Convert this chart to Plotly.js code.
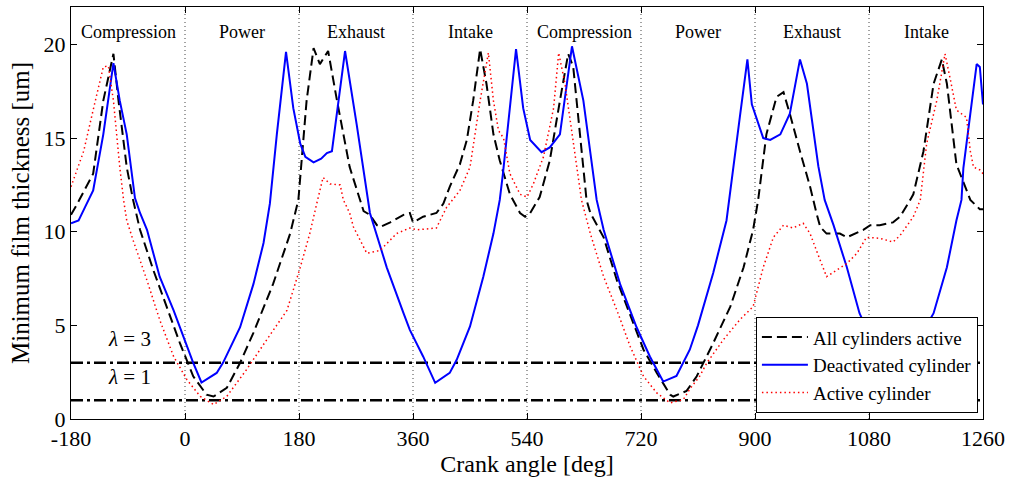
<!DOCTYPE html>
<html>
<head>
<meta charset="utf-8">
<script src="https://cdn.plot.ly/plotly-3.0.1.min.js"></script>
<style>html,body{margin:0;padding:0;background:#fff;}#chart{width:1013px;height:481px;}</style>
</head>
<body>
<div id="chart"></div>
<script>
// ---- Data ----
const allX = [-180,-170,-145,-129,-113,-105,-92,-82,-71,-50,-29,-8,13,34,45,66,87,108,139,166,179,192,203,213,226,240,260,282,292,303,308,324,345,355,360,376,397,408,418,434,445,455,466,476,487,497,513,529,537,545,560,576,592,605,613,624,634,640,650,661,682,703,724,745,766,771,792,808,834,861,882,897,905,918,934,945,955,971,987,997,1003,1013,1034,1045,1071,1082,1097,1118,1129,1145,1150,1166,1182,1195,1203,1218,1240,1255,1260];
const allY = [10.9,11.5,13.1,17.0,19.5,17.0,13.45,11.7,10.1,7.95,6.0,4.05,2.28,1.3,1.2,1.66,3.0,4.6,7.2,9.9,11.7,17.0,19.8,18.95,19.65,17.0,13.45,11.1,10.9,10.35,10.25,10.5,10.9,11.0,10.5,10.8,11.0,11.5,12.4,13.6,14.9,17.0,19.75,17.9,15.2,13.8,12.0,11.0,10.8,11.0,11.85,13.8,17.0,19.5,18.8,15.2,11.7,11.0,10.4,9.7,7.4,5.5,3.7,2.46,1.3,1.2,1.5,2.28,4.05,6.0,8.1,10.1,11.7,15.2,17.2,17.45,16.3,14.3,12.4,11.0,10.25,9.9,9.9,9.7,10.1,10.35,10.35,10.5,10.8,11.7,12.0,14.3,17.9,19.2,17.9,13.6,11.7,11.2,11.2];

const deacX = [-180,-168,-158,-145,-129,-113,-103,-92,-79,-71,-60,-40,-18,-3,13,26,38,50,60,87,108,124,134,145,159.5,171,182,190,203,215,224,232,252.7,271,292,318.5,345,355,376,395,418,429,450,471,487,497,502,522.7,534,545,563,576,592,611,629,650,661,687,713,734,755,776,797,810,834,855,876,888,895,913,924,940,955,971,982,1000,1010,1024,1045,1065,1096,1115,1138,1149,1170,1182,1203,1218,1226,1229,1250,1255,1260];
const deacY = [10.45,10.6,11.3,12.2,15.2,19.0,17.0,15.2,11.8,11.0,10.1,7.6,5.8,4.4,3.0,1.95,2.2,2.46,3.0,4.9,7.2,9.4,11.5,15.2,19.6,16.6,14.7,14.0,13.7,13.9,14.2,14.3,19.65,15.75,11.0,8.1,5.65,4.76,3.34,1.93,2.46,3.16,4.94,7.6,9.9,11.7,13.1,19.75,16.6,14.9,14.25,14.5,15.2,19.9,17.0,11.7,10.1,7.2,4.9,3.34,2.0,2.3,3.7,5.0,7.8,10.6,16.1,19.2,16.8,15.0,14.9,15.2,16.3,19.2,17.9,13.5,11.7,10.35,8.1,5.65,3.34,1.93,2.46,3.16,4.94,5.65,8.1,10.6,11.7,13.4,18.95,18.8,16.8];

const actX = [-180,-160,-145,-129,-121,-113,-103,-97,-92,-82,-60,-40,-18,3,24,45,66,97,129,161,182,197,208,218,229,245,250,260,266,287,308,324,334,355,366,397,413,434,450,466,479,487,495,503,513,529,540,550,566,582,590,600,613,626,640,661,682,703,724,745,766,787,797,813,824,850,876,897,913,929,945,960,976,987,997,1013,1029,1045,1061,1076,1097,1118,1129,1150,1161,1171,1187,1200,1208,1218,1234,1240,1245,1255,1260];
const actY = [12.4,14.3,16.5,18.8,18.85,17.0,13.45,11.7,10.6,9.55,7.4,5.3,3.34,2.1,1.21,0.77,1.21,2.63,4.23,5.8,8.1,9.9,11.5,12.9,12.55,12.5,11.7,11.0,10.25,8.85,9.0,9.55,9.9,10.2,10.1,10.2,11.3,12.2,13.45,17.0,19.55,17.0,15.4,15.0,13.1,12.0,11.85,12.55,14.0,16.6,19.55,17.9,14.9,11.7,9.9,7.6,5.8,3.87,2.28,1.39,0.86,1.04,1.6,2.3,3.0,4.23,5.3,6.0,8.1,9.7,10.35,10.2,10.45,9.9,9.0,7.6,7.95,8.3,8.85,9.7,9.65,9.45,9.8,10.8,11.7,14.7,17.0,19.5,18.2,16.5,16.1,14.3,13.45,13.3,13.1];

const seriesNames = ["All cylinders active","Deactivated cylinder","Active cylinder"];
const lambdaLevels = [3, 1];
const lambdaLabels = ["<i>λ</i> = 3", "<i>λ</i> = 1"];
const phaseBoundaries = [0,180,360,540,720,900,1080];
const phaseLabels = ["Compression","Power","Exhaust","Intake","Compression","Power","Exhaust","Intake"];
const phaseCenters = [-90,90,270,450,630,810,990,1170];
const xTicks = [-180,0,180,360,540,720,900,1080,1260];
const yTicks = [0,5,10,15,20];
const xRange = [-180,1260];
const yRange = [0,22];

const serif = '"Liberation Serif", serif';

const traces = [];
lambdaLevels.forEach(function(l){
  traces.push({x:[xRange[0],xRange[1]], y:[l,l], mode:'lines', showlegend:false, hoverinfo:'skip',
    line:{color:'#000', width:2.5, dash:'12px,4px,3px,4px'}});
});
traces.push({x:allX, y:allY, name:seriesNames[0], mode:'lines', line:{color:'#000', width:2, dash:'10px,5px'}});
traces.push({x:deacX, y:deacY, name:seriesNames[1], mode:'lines', line:{color:'#0000ff', width:2}});
traces.push({x:actX, y:actY, name:seriesNames[2], mode:'lines', line:{color:'#ff0000', width:1.5, dash:'1.5px,3px'}});

const shapes = phaseBoundaries.map(function(b){
  return {type:'line', xref:'x', yref:'paper', x0:b, x1:b, y0:0, y1:1, layer:'below',
    line:{color:'#444', width:1, dash:'1px,3px'}};
});

const annotations = [];
phaseLabels.forEach(function(t,i){
  annotations.push({x:phaseCenters[i], y:20.66, xref:'x', yref:'y', text:t, showarrow:false,
    font:{family:serif, size:18, color:'#000'}});
});
lambdaLevels.forEach(function(l,i){
  annotations.push({x:-87, y:l+1.25, xref:'x', yref:'y', text:lambdaLabels[i], showarrow:false,
    font:{family:serif, size:21, color:'#000'}});
});

const layout = {
  width:1013, height:481,
  margin:{l:71, r:30, t:7, b:62},
  paper_bgcolor:'#fff', plot_bgcolor:'#fff',
  font:{family:serif, color:'#000'},
  showlegend:true,
  legend:{x:0.751, y:0.247, xanchor:'left', yanchor:'top', bgcolor:'#fff', bordercolor:'#000', borderwidth:1,
    font:{family:serif, size:19, color:'#000'}, itemwidth:46, tracegroupgap:0},
  xaxis:{range:xRange, tickvals:xTicks, ticktext:xTicks.map(String), ticks:'inside', ticklen:6, tickcolor:'#000',
    showline:true, linecolor:'#000', linewidth:1, mirror:'ticks', showgrid:false, zeroline:false,
    tickfont:{family:serif, size:22, color:'#000'},
    title:{text:'Crank angle [deg]', font:{family:serif, size:24, color:'#000'}, standoff:2}},
  yaxis:{range:yRange, tickvals:yTicks, ticks:'inside', ticklen:6, tickcolor:'#000',
    showline:true, linecolor:'#000', linewidth:1, mirror:'ticks', showgrid:false, zeroline:false,
    tickfont:{family:serif, size:22, color:'#000'},
    title:{text:'Minimum film thickness [um]', font:{family:serif, size:25, color:'#000'}, standoff:6}},
  shapes:shapes,
  annotations:annotations
};

Plotly.newPlot('chart', traces, layout, {displayModeBar:false, staticPlot:true});
</script>
</body>
</html>
